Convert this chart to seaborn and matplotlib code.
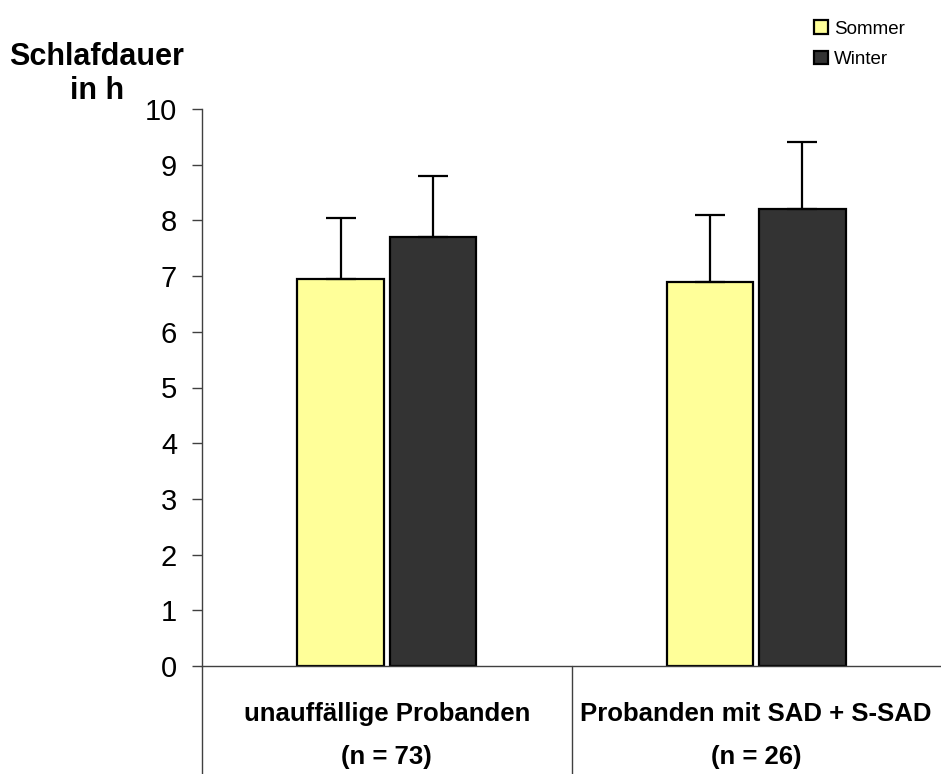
import matplotlib
matplotlib.use("Agg")
import matplotlib.pyplot as plt
import matplotlib.transforms as mtransforms
from matplotlib.patches import Patch
import numpy as np
import pandas as pd
import seaborn as sns

# Mean sleep duration (hours) and standard deviation per group and season
groups = ["unauffällige Probanden", "Probanden mit SAD + S-SAD"]
group_n = ["(n = 73)", "(n = 26)"]
seasons = ["Sommer", "Winter"]
mean_sommer = [6.95, 6.9]
mean_winter = [7.7, 8.2]
sd_sommer = [1.1, 1.2]
sd_winter = [1.1, 1.2]
y_ticks = [0, 1, 2, 3, 4, 5, 6, 7, 8, 9, 10]

df = pd.DataFrame({
    "Gruppe": groups * 2,
    "Saison": [seasons[0]] * 2 + [seasons[1]] * 2,
    "Schlafdauer": mean_sommer + mean_winter,
    "SD": sd_sommer + sd_winter,
})

sns.set_theme(style="white")
plt.rcParams["font.family"] = ["Liberation Sans", "DejaVu Sans"]
plt.rcParams["text.color"] = "black"
plt.rcParams["xtick.color"] = "black"
plt.rcParams["ytick.color"] = "black"
plt.rcParams["xtick.labelcolor"] = "black"
plt.rcParams["ytick.labelcolor"] = "black"

palette = {"Sommer": "#FFFF99", "Winter": "#333333"}

fig = plt.figure(figsize=(9.41, 7.74), dpi=100)
ax = fig.add_axes([202 / 941, 108 / 774, 739 / 941, 557 / 774])

sns.barplot(data=df, x="Gruppe", y="Schlafdauer", hue="Saison",
            order=groups, hue_order=seasons, palette=palette,
            width=0.5, gap=0.065, errorbar=None, edgecolor="black",
            linewidth=1.6, saturation=1, legend=False, ax=ax)

# One-sided (upper) standard deviation whiskers
for season, container in zip(seasons, ax.containers):
    sub = df[df["Saison"] == season].set_index("Gruppe").loc[groups]
    xs = [p.get_x() + p.get_width() / 2 for p in container.patches]
    ys = sub["Schlafdauer"].to_numpy()
    err = sub["SD"].to_numpy()
    ax.errorbar(xs, ys, yerr=[np.zeros_like(err), err], fmt="none",
                ecolor="black", elinewidth=1.6, capsize=11, capthick=1.6,
                zorder=1)

ax.set_xlim(-0.5, 1.5)
ax.set_ylim(0, 10)
ax.set_yticks(y_ticks)
ax.set_yticklabels([str(t) for t in y_ticks], fontsize=21)
ax.tick_params(axis="y", direction="out", length=7, width=1,
               color="#404040", pad=11, left=True)
ax.set_xticks(range(len(groups)))
ax.set_xticklabels([f"{g}\n{n}" for g, n in zip(groups, group_n)],
                   fontsize=18.5, fontweight="bold", linespacing=2.0)
ax.tick_params(axis="x", length=0, pad=26)
ax.set_xlabel("")
ax.set_ylabel("")

for side in ["top", "right"]:
    ax.spines[side].set_visible(False)
for side in ["left", "bottom"]:
    ax.spines[side].set_color("#404040")
    ax.spines[side].set_linewidth(1)

# Category separators running below the axis
trans = mtransforms.blended_transform_factory(ax.transData, ax.transAxes)
for xb in [-0.5, 0.5]:
    ax.plot([xb, xb], [0, -0.2], transform=trans, color="#404040",
            lw=1, clip_on=False)

# Axis title in two centred lines
fig.text(97 / 941, 1 - 57 / 774, "Schlafdauer", ha="center",
         va="center", fontsize=22, fontweight="bold")
fig.text(97 / 941, 1 - 91 / 774, "in h", ha="center",
         va="center", fontsize=22, fontweight="bold")

handles = [Patch(facecolor=palette[s], edgecolor="black", linewidth=1.6)
           for s in seasons]
fig.legend(handles, seasons, loc="upper left",
           bbox_to_anchor=(801 / 941, 1 - 7 / 774), frameon=False,
           fontsize=13.5, handlelength=0.75, handleheight=0.75,
           handletextpad=0.3, labelspacing=0.7, borderpad=0.2)

fig.savefig("out.png", dpi=100)
